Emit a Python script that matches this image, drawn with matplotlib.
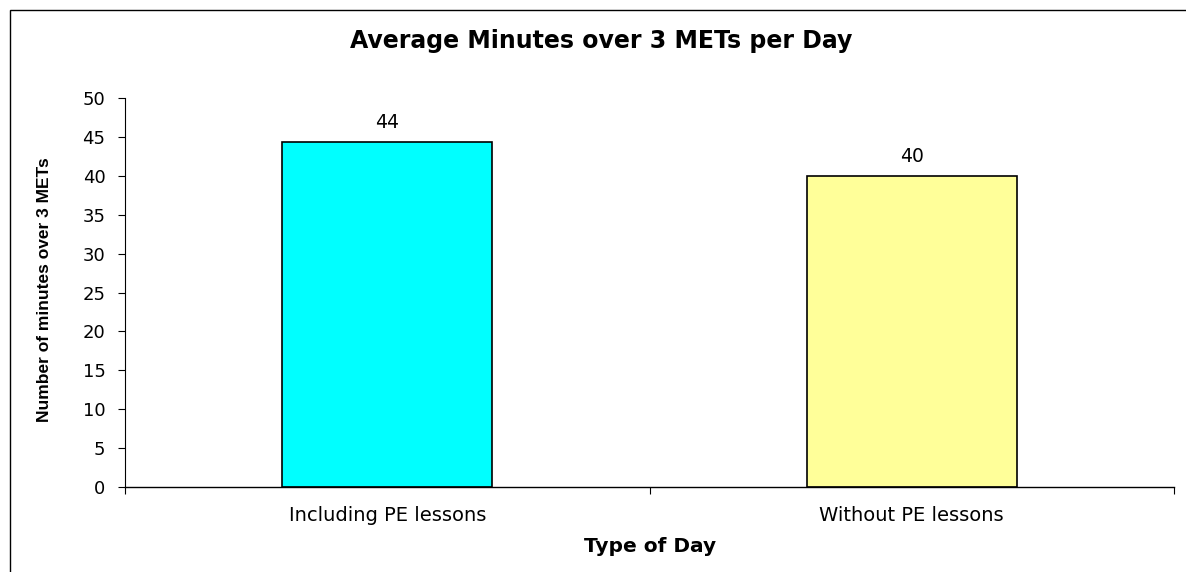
import matplotlib
matplotlib.use("Agg")
import matplotlib.pyplot as plt
from matplotlib.patches import Rectangle

categories = ["Including PE lessons", "Without PE lessons"]
values = [44.4, 40.0]
colors = ["#00FFFF", "#FFFF99"]
yticks = [0, 5, 10, 15, 20, 25, 30, 35, 40, 45, 50]

plt.rcParams['font.family'] = ['DejaVu Sans']

W, H = 1186, 572
fig = plt.figure(figsize=(W/100, H/100), dpi=100)
ax = fig.add_axes([125/W, 1 - 487/H, (1174-125)/W, (487-98)/H])

# outer chart border
fig.patches.append(Rectangle((10/W, -0.05), 1.2, 1 - 10/H + 0.05, transform=fig.transFigure,
                             fill=False, edgecolor='black', linewidth=1.0))

x = [0.5, 1.5]
ax.bar(x, values, width=0.4, color=colors, edgecolor='black', linewidth=1.2)
for xi, v in zip(x, values):
    ax.text(xi, v + 1.2, f"{v:.0f}", ha='center', va='bottom', fontsize=13.5)

ax.set_xlim(0, 2)
ax.set_ylim(0, 50)
ax.set_yticks(yticks)
ax.set_yticklabels([str(t) for t in yticks], fontsize=13)
ax.set_xticks([0, 1, 2])
ax.set_xticklabels([])
ax.set_xticks(x, minor=True)
ax.set_xticklabels(categories, minor=True, fontsize=14)
ax.tick_params(axis='x', which='minor', length=0, pad=14)
ax.tick_params(axis='x', which='major', length=5, direction='out')
ax.tick_params(axis='y', length=5, direction='out', pad=9)

for s in ['top', 'right']:
    ax.spines[s].set_visible(False)
ax.spines['left'].set_linewidth(0.8)
ax.spines['bottom'].set_linewidth(1.0)

fig.text(601/W, 1 - 41/H, "Average Minutes over 3 METs per Day", ha='center', va='center',
         fontsize=17, fontweight='bold')
fig.text(650/W, 1 - 546/H, "Type of Day", ha='center', va='center', fontsize=14.5, fontweight='bold')
fig.text(45/W, 1 - 290/H, "Number of minutes over 3 METs", ha='center', va='center',
         rotation=90, fontsize=12.5, fontweight='bold', family=['Liberation Sans'])

fig.savefig("out.png", dpi=100)
